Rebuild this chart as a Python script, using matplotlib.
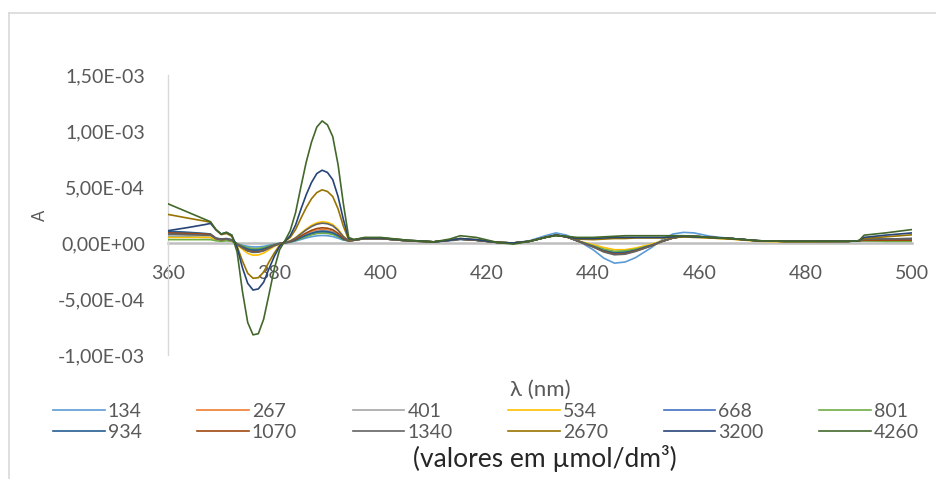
import matplotlib
matplotlib.use("Agg")
import matplotlib.pyplot as plt
from matplotlib.lines import Line2D
import numpy as np

# wavelengths (nm)
wavelength = [360, 364, 367, 368, 369, 370, 371, 372, 373, 374,
              375, 376, 377, 378, 379, 380, 381, 382, 383, 384,
              385, 386, 387, 388, 389, 390, 391, 392, 393, 394,
              395, 397, 400, 405, 410, 413, 415, 418, 422, 425,
              428, 431, 433, 435, 437, 440, 442, 444, 446, 448,
              451, 453, 455, 457, 459, 462, 466, 471, 476, 482,
              488, 490, 491, 495, 500]

# absorbance differences, in units of 1e-5
a_134 = [6, 5.5, 5, 5, 3, 2, 2.5, 2, -0.5, -2,
         -3, -3.5, -3.5, -3, -2, -1, -0.3, 0.2, 0.8, 1.8,
         3.1, 4.5, 5.6, 6.4, 6.7, 6.5, 5.8, 4.3, 2.6, 2,
         2.5, 4, 4, 2, 1, 2, 3, 2.5, 0.5, 0,
         2, 6.5, 9, 7, 2.5, -6, -13.5, -18, -17, -13,
         -4, 3, 8, 9.5, 9, 6, 4, 2, 1.5, 1.5,
         1.5, 2, 2, 2, 2]
a_267 = [9, 8.5, 8, 7.5, 4, 3, 3.5, 2.5, -1, -4,
         -6.5, -7.5, -7.3, -6.2, -4.1, -2.1, -0.5, 0.3, 1.2, 3,
         5.5, 8, 10, 11.4, 12, 11.6, 10.4, 7.7, 3.9, 2,
         2.5, 4, 4, 2, 1, 2.5, 3.5, 2.5, 0.5, 0,
         1.5, 5, 7, 5.5, 2, -3, -6.5, -9, -8.5, -6.5,
         -2, 1.5, 4.5, 6, 6, 5, 4, 2, 1.5, 1.5,
         1.5, 2, 2.5, 2.5, 2.5]
a_401 = [7.5, 7, 6.5, 6.5, 3.5, 2.5, 3, 2, -1, -3.4,
         -5.5, -6.4, -6.3, -5.3, -3.6, -1.8, -0.5, 0.2, 1.1, 2.8,
         5, 7.3, 9.1, 10.5, 11, 10.7, 9.6, 7, 3.5, 2,
         2.5, 4, 4, 2, 1, 2.5, 3.5, 2.5, 0.5, 0,
         1.5, 5, 7, 5.5, 2, -2.5, -6, -8, -7.5, -6,
         -2, 1.5, 4.5, 6, 6, 5, 4, 2, 1.5, 1.5,
         1.5, 2, 2, 1.5, 1.5]
a_534 = [5, 5, 5, 5, 3, 2.5, 3, 2, -1.5, -5.5,
         -9.3, -10.9, -10.7, -9, -6, -3, -0.8, 0.4, 1.9, 4.8,
         8.7, 12.5, 15.8, 18, 19, 18.4, 16.5, 12.2, 6.1, 2,
         2.5, 4, 4, 2, 1, 2.5, 3.5, 2.5, 0.5, 0,
         1.5, 5, 7, 5.5, 2, -1.5, -4, -6, -6, -4.5,
         -1, 2, 4.5, 5.5, 5.5, 4.5, 3.5, 1.5, 1, 1,
         1.5, 2, 3, 3, 3]
a_668 = [10, 9, 8, 7.5, 4, 3, 3.5, 2.5, -1, -3.1,
         -5.1, -5.9, -5.8, -4.9, -3.3, -1.7, -0.4, 0.2, 1, 2.4,
         4.4, 6.3, 7.9, 9, 9.5, 9.2, 8.3, 6.1, 3, 2,
         2.5, 4, 4, 2, 1, 2.5, 3.5, 2.5, 0.5, 0,
         1.5, 5, 7, 5.5, 2, -3, -6.5, -8.5, -8, -6,
         -2, 1.5, 4.5, 6, 6, 5, 4, 2, 1.5, 1.5,
         1.5, 2, 3, 3, 3.5]
a_801 = [3, 3, 3, 3, 2, 1.5, 2, 1.5, -0.7, -2.6,
         -4.2, -5, -4.9, -4.1, -2.8, -1.4, -0.4, 0.2, 0.9, 2.2,
         4, 5.8, 7.3, 8.4, 8.8, 8.5, 7.7, 5.6, 2.8, 2,
         2.5, 4, 4, 2, 1, 2.5, 3.5, 2.5, 0.5, 0,
         1.5, 5, 7, 5.5, 2, -2.5, -5.5, -7.5, -7, -5.5,
         -2, 1.5, 4.5, 6, 6, 5, 4, 2, 1.5, 1.5,
         1.5, 2, 2, 1.5, 1.5]
a_934 = [10.5, 9.5, 8.5, 8, 4.5, 3.5, 4, 3, -1, -3.4,
         -5.5, -6.4, -6.3, -5.3, -3.6, -1.8, -0.5, 0.2, 1.1, 2.6,
         4.8, 6.9, 8.7, 10, 10.5, 10.2, 9.1, 6.7, 3.4, 2,
         2.5, 4, 4, 2, 1, 2.5, 3.5, 2.5, 0.5, 0,
         1.5, 5, 7, 5.5, 2, -3, -7, -9, -8.5, -6.5,
         -2, 1.5, 4.5, 6, 6, 5, 4, 2, 1.5, 1.5,
         1.5, 2, 3.5, 3.5, 4]
a_1070 = [9, 8.5, 8, 7.5, 4, 3, 3.5, 2.5, -1.2, -4.2,
          -6.8, -7.9, -7.8, -6.6, -4.4, -2.2, -0.6, 0.3, 1.4, 3.4,
          6.3, 9, 11.3, 12.9, 13.6, 13.2, 11.8, 8.7, 4.4, 2,
          2.5, 4, 4, 2, 1, 2.5, 3.5, 2.5, 0.5, 0,
          1.5, 5, 7, 5.5, 2, -3.5, -7.5, -10, -9.5, -7,
          -2.5, 1.5, 4.5, 6, 6, 5, 4, 2, 1.5, 1.5,
          1.5, 2, 2.5, 2.5, 2.5]
a_1340 = [8, 7.5, 7, 7, 4, 3, 3.5, 2.5, -1.3, -4.4,
          -7.2, -8.4, -8.2, -7, -4.7, -2.4, -0.6, 0.4, 1.8, 4.4,
          8.1, 11.7, 14.7, 16.8, 17.7, 17.2, 15.4, 11.3, 5.7, 2,
          2.5, 4, 4, 2, 1, 2.5, 3.5, 2.5, 0.5, 0,
          1.5, 5, 7, 5.5, 2, -3.5, -8, -10.5, -10, -7.5,
          -2.5, 1.5, 4.5, 6, 6, 5, 4, 2, 1.5, 1.5,
          1.5, 2, 3.5, 3.5, 4]
a_2670 = [25.5, 22, 19.5, 18.5, 12, 7.5, 8.5, 6, -3, -16,
          -27, -31.5, -31, -26, -17, -9, -2, 1.5, 5, 12,
          22, 31.5, 39.5, 45, 47.5, 46, 41.5, 30.5, 15, 3,
          3, 4.5, 4.5, 2.5, 1, 2.5, 4, 3, 0.5, 0,
          1.5, 5, 7, 5.5, 3.5, 3, 3.5, 4, 4, 4.5,
          4.5, 4.5, 5, 5.5, 5, 4.5, 3.5, 2, 1.5, 1.5,
          1.5, 2, 4, 5.5, 7.3]
a_3200 = [11, 14, 16.5, 17.5, 12, 8, 9.5, 7, -4, -22,
          -36, -42, -41, -35, -23, -12, -3, 1.5, 6.5, 16,
          30, 43, 54, 62, 65, 63, 56.5, 41.5, 21, 4,
          3, 4.5, 4.5, 2.5, 1, 2.5, 4, 3, 0.5, 0,
          1.5, 5, 7, 5.5, 4, 4, 4.5, 5, 5, 5,
          5, 5, 5.5, 6, 5.5, 5, 4, 2, 1.5, 1.5,
          1.5, 2, 5, 7, 9]
a_4260 = [35, 27, 21, 19, 12, 8, 9.5, 7, -8, -43,
          -71, -82, -81, -68, -46, -23, -6, 2, 11, 27,
          50, 72, 90, 103.5, 109, 105.5, 95, 70, 35, 5,
          3, 5, 5, 2.5, 1, 3.5, 6.5, 5, 0.5, -1,
          1.5, 5, 6.5, 6, 5, 5, 5.5, 6, 6.5, 6.5,
          6.5, 6.5, 6.5, 6.5, 6, 5, 4, 2, 1.5, 1.5,
          1.5, 2, 7, 9, 12]

series_labels = ["134", "267", "401", "534", "668", "801",
                 "934", "1070", "1340", "2670", "3200", "4260"]
series_values = [a_134, a_267, a_401, a_534, a_668, a_801,
                 a_934, a_1070, a_1340, a_2670, a_3200, a_4260]
colors = ["#5B9BD5", "#ED7D31", "#A5A5A5", "#FFC000", "#4472C4", "#70AD47",
          "#255E91", "#9E480E", "#636363", "#997300", "#264478", "#43682B"]

x_ticks = [360, 380, 400, 420, 440, 460, 480, 500]
y_ticks = [-1.0e-3, -5.0e-4, 0.0, 5.0e-4, 1.0e-3, 1.5e-3]
y_ticklabels = ["-1,00E-03", "-5,00E-04", "0,00E+00", "5,00E-04", "1,00E-03", "1,50E-03"]

plt.rcParams['font.family'] = ['Lato', 'DejaVu Sans']
TXT = "#595959"

W, H = 937, 479
fig = plt.figure(figsize=(W / 100, H / 100), dpi=100)
fig.patch.set_facecolor("white")

ax = fig.add_axes([168 / W, 1 - 355 / H, 744 / W, 280 / H])
ax.set_facecolor("none")

x = np.array(wavelength)
handles = []
for lab, vals, col in zip(series_labels, series_values, colors):
    h, = ax.plot(x, np.array(vals) * 1e-5, color=col, lw=1.2,
                 solid_joinstyle="round", label=lab, zorder=3)
    handles.append(h)

ax.set_xlim(360, 500)
ax.set_ylim(-1.0e-3, 1.5e-3)
ax.set_xticks(x_ticks)
ax.set_xticklabels([str(t) for t in x_ticks])
ax.set_yticks(y_ticks)
ax.set_yticklabels(y_ticklabels)

for s in ("top", "right"):
    ax.spines[s].set_visible(False)
ax.spines["left"].set_color("#d9d9d9")
ax.spines["left"].set_linewidth(1.0)
ax.spines["bottom"].set_position(("data", 0))
ax.spines["bottom"].set_color("#bfbfbf")
ax.spines["bottom"].set_linewidth(1.8)
ax.spines["bottom"].set_zorder(1)

ax.tick_params(axis="both", length=0, labelsize=14, labelcolor=TXT)
ax.tick_params(axis="y", pad=16.5)
ax.tick_params(axis="x", pad=16)

ax.set_ylabel("A", fontsize=12, color=TXT)
ax.yaxis.set_label_coords(-0.162, 0.5)
ax.set_xlabel("λ (nm)", fontsize=16, color=TXT)
ax.xaxis.set_label_coords(0.5, (355 - 380) / 280)

order = [0, 6, 1, 7, 2, 8, 3, 9, 4, 10, 5, 11]
leg = fig.legend([handles[i] for i in order], [series_labels[i] for i in order],
                 ncol=6, loc="upper left", bbox_to_anchor=(53 / W, 1 - 403 / H),
                 frameon=False, fontsize=14, handlelength=2.65, handletextpad=0.17,
                 columnspacing=2.85, labelspacing=0.22, borderpad=0, borderaxespad=0)
for t in leg.get_texts():
    t.set_color(TXT)

fig.text(545 / W, 1 - 459 / H, "(valores em µmol/dm³)", fontsize=19,
         color="#262626", ha="center", va="center")

# outer chart border (partially cropped)
fig.add_artist(Line2D([9.5 / W, 9.5 / W], [0, 1 - 12.5 / H], transform=fig.transFigure,
                      color="#d9d9d9", lw=1.2))
fig.add_artist(Line2D([9.5 / W, 1], [1 - 12.5 / H, 1 - 12.5 / H], transform=fig.transFigure,
                      color="#d9d9d9", lw=1.2))

fig.savefig("out.png", dpi=100)
